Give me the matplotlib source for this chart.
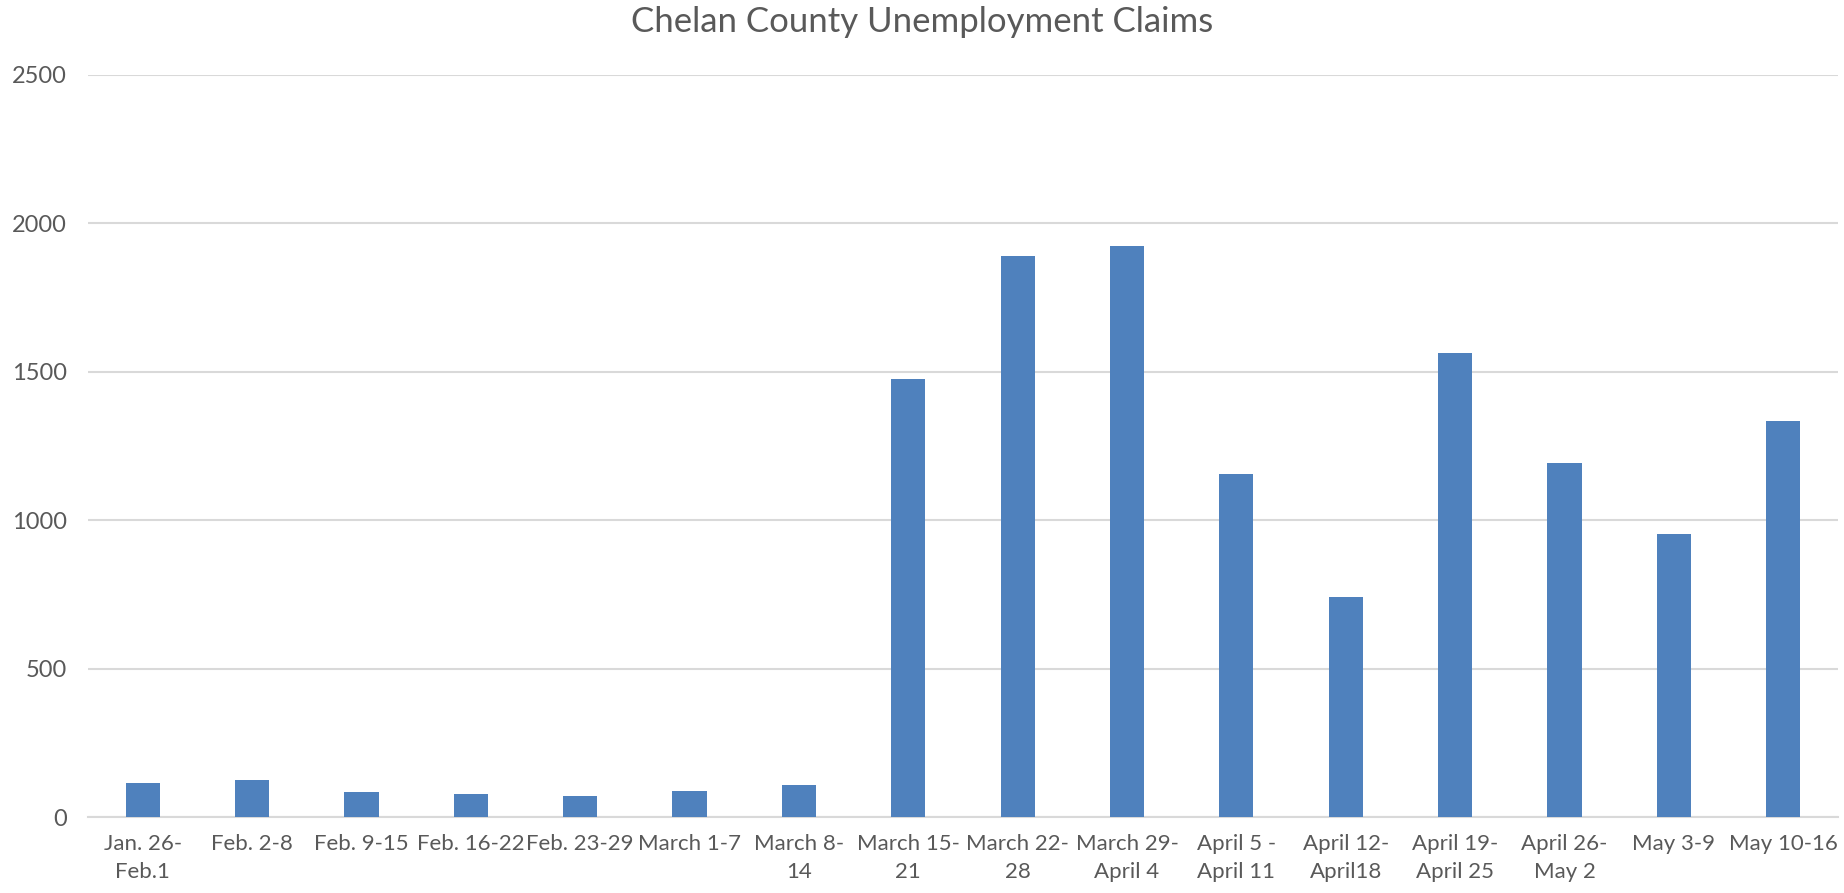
import matplotlib
matplotlib.use("Agg")
import matplotlib.pyplot as plt
import numpy as np

# weekly claims
weeks = ["Jan. 26-\nFeb.1", "Feb. 2-8", "Feb. 9-15", "Feb. 16-22", "Feb. 23-29",
         "March 1-7", "March 8-\n14", "March 15-\n21", "March 22-\n28",
         "March 29-\nApril 4", "April 5 -\nApril 11", "April 12-\nApril18",
         "April 19-\nApril 25", "April 26-\nMay 2", "May 3-9", "May 10-16"]
claims = [115, 126, 84, 79, 70, 87, 109, 1475, 1890, 1922, 1157, 741, 1564, 1191, 955, 1333]
yticks = [0, 500, 1000, 1500, 2000, 2500]

plt.rcParams['font.family'] = ['Lato', 'DejaVu Sans']
txt = '#595959'
grid = '#d9d9d9'

fig = plt.figure(figsize=(18.44, 8.93), dpi=100)
ax = fig.add_axes([0.0477, 0.0851, 0.949, 0.831])

x = np.arange(len(weeks))
ax.bar(x, claims, width=0.313, color='#4f81bd', zorder=3)

ax.set_xlim(-0.5, len(weeks) - 0.5)
ax.set_ylim(0, 2500)
ax.set_yticks(yticks)
ax.set_yticklabels([str(v) for v in yticks], fontsize=17, color=txt)
ax.set_xticks(x)
ax.set_xticklabels(weeks, fontsize=16, color=txt, linespacing=1.55)
ax.tick_params(axis='both', length=0)
ax.tick_params(axis='x', pad=12)
ax.tick_params(axis='y', pad=15)

ax.grid(axis='y', color=grid, linewidth=1.5, zorder=0)
for s in ['top', 'right', 'left']:
    ax.spines[s].set_visible(False)
ax.spines['bottom'].set_color(grid)
ax.spines['bottom'].set_linewidth(1.5)

fig.text(0.5, 0.975, "Chelan County Unemployment Claims", ha='center', va='center',
         fontsize=25, color=txt)

fig.savefig("out.png", dpi=100)
